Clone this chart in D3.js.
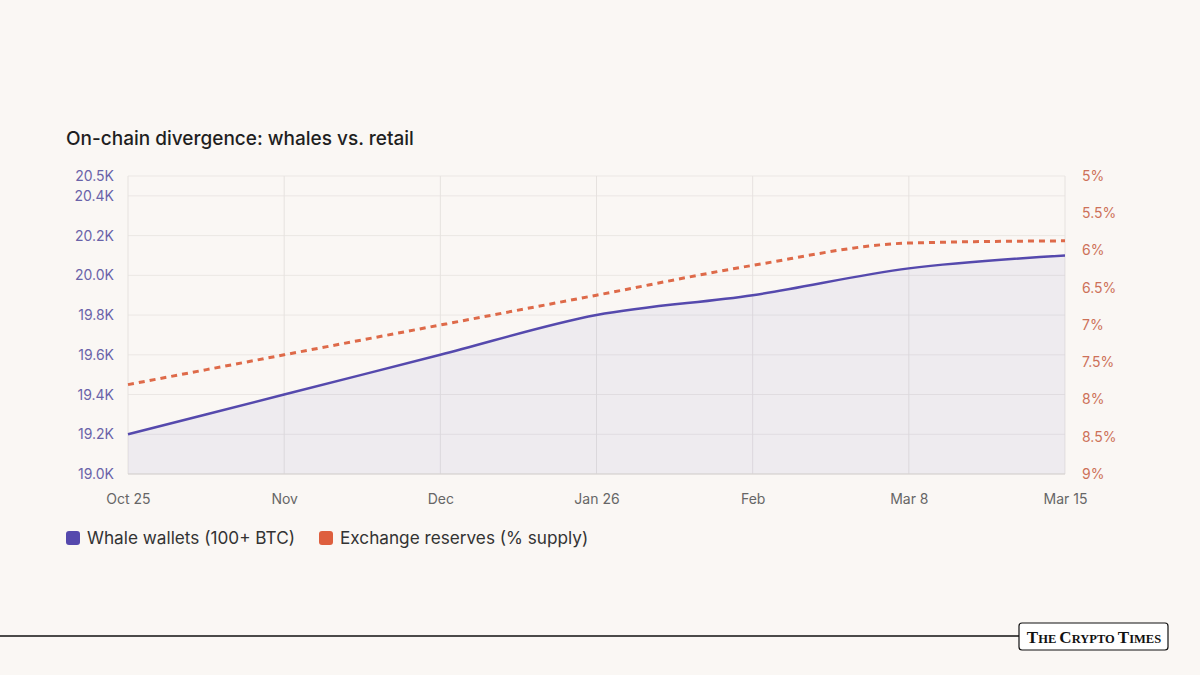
<!DOCTYPE html>
<html>
<head>
<meta charset="utf-8">
<script src="https://cdn.jsdelivr.net/npm/d3@7"></script>
<style>
    body { margin: 0; background: #faf7f4; }
    svg { display: block; font-family: Inter, "Open Sans", sans-serif; }
</style>
</head>
<body>
<svg width="1200" height="675"></svg>
<script>
const dates = ["Oct 25", "Nov", "Dec", "Jan 26", "Feb", "Mar 8", "Mar 15"];
const whaleWallets = [19200, 19400, 19600, 19800, 19900, 20035, 20100];
const exchangeReserves = [7.8, 7.4, 7.0, 6.6, 6.2, 5.9, 5.87];
const leftTicks = [19000, 19200, 19400, 19600, 19800, 20000, 20200, 20400, 20500];
const rightTicks = [5, 5.5, 6, 6.5, 7, 7.5, 8, 8.5, 9];

const rows = dates.map((d, i) => ({ date: d, whale: whaleWallets[i], reserve: exchangeReserves[i] }));

const svg = d3.select("svg");

const margin = { left: 128, right: 1065, top: 176, bottom: 474 };

const x = d3.scalePoint()
    .domain(dates)
    .range([margin.left, margin.right]);

const yLeft = d3.scaleLinear()
    .domain([19000, 20500])
    .range([margin.bottom, margin.top]);

const yRight = d3.scaleLinear()
    .domain([5, 9])
    .range([margin.top, margin.bottom]);

// grid
const grid = svg.append("g");
grid.selectAll(".hgrid")
    .data(leftTicks)
    .enter()
    .append("line")
    .attr("x1", margin.left)
    .attr("x2", margin.right)
    .attr("y1", d => yLeft(d))
    .attr("y2", d => yLeft(d))
    .attr("stroke", "#ebe7e4")
    .attr("stroke-width", 1);

grid.selectAll(".vgrid")
    .data(dates)
    .enter()
    .append("line")
    .attr("x1", d => x(d))
    .attr("x2", d => x(d))
    .attr("y1", margin.top)
    .attr("y2", margin.bottom)
    .attr("stroke", "#e6e2df")
    .attr("stroke-width", 1);

// area under whale line
const area = d3.area()
    .x(d => x(d.date))
    .y0(margin.bottom)
    .y1(d => yLeft(d.whale))
    .curve(d3.curveMonotoneX);

svg.append("path")
    .datum(rows)
    .attr("d", area)
    .attr("fill", "#5b4fb3")
    .attr("fill-opacity", 0.07);

// baseline
svg.append("line")
    .attr("x1", margin.left)
    .attr("x2", margin.right)
    .attr("y1", margin.bottom)
    .attr("y2", margin.bottom)
    .attr("stroke", "#d6d2cf");

const whaleLine = d3.line()
    .x(d => x(d.date))
    .y(d => yLeft(d.whale))
    .curve(d3.curveMonotoneX);

const reserveLine = d3.line()
    .x(d => x(d.date))
    .y(d => yRight(d.reserve))
    .curve(d3.curveMonotoneX);

svg.append("path")
    .datum(rows)
    .attr("d", reserveLine)
    .attr("fill", "none")
    .attr("stroke", "#de6a49")
    .attr("stroke-width", 3)
    .attr("stroke-dasharray", "6,5");

svg.append("path")
    .datum(rows)
    .attr("d", whaleLine)
    .attr("fill", "none")
    .attr("stroke", "#5549ad")
    .attr("stroke-width", 2.5);

// axes
const leftAxis = svg.append("g")
    .attr("transform", `translate(${margin.left},0)`)
    .call(d3.axisLeft(yLeft)
        .tickValues(leftTicks)
        .tickSize(0)
        .tickPadding(14)
        .tickFormat(d => (d / 1000).toFixed(1) + "K"));
leftAxis.select(".domain").remove();
leftAxis.selectAll("text")
    .attr("fill", "#6a63a9")
    .style("font-size", "14px")
    .style("font-family", "Inter, sans-serif");

const rightAxis = svg.append("g")
    .attr("transform", `translate(${margin.right},0)`)
    .call(d3.axisRight(yRight)
        .tickValues(rightTicks)
        .tickSize(0)
        .tickPadding(17)
        .tickFormat(d => d + "%"));
rightAxis.select(".domain").remove();
rightAxis.selectAll("text")
    .attr("fill", "#cd7159")
    .style("font-size", "14px")
    .style("font-family", "Inter, sans-serif");

const bottomAxis = svg.append("g")
    .attr("transform", `translate(0,${margin.bottom})`)
    .call(d3.axisBottom(x).tickSize(0).tickPadding(20));
bottomAxis.select(".domain").remove();
bottomAxis.selectAll("text")
    .attr("fill", "#666")
    .style("font-size", "14px")
    .style("font-family", "Inter, sans-serif");

// title
svg.append("text")
    .attr("x", 66)
    .attr("y", 145)
    .attr("fill", "#1f1f1f")
    .style("font-size", "19px")
    .style("font-weight", 500)
    .text("On-chain divergence: whales vs. retail");

// legend
const legendItems = [
    { label: "Whale wallets (100+ BTC)", color: "#5549ad", x: 66 },
    { label: "Exchange reserves (% supply)", color: "#de5f3e", x: 319 }
];
const legend = svg.append("g")
    .selectAll(".legend")
    .data(legendItems)
    .enter()
    .append("g")
    .attr("transform", d => `translate(${d.x},538)`);
legend.append("rect")
    .attr("x", 0)
    .attr("y", -7)
    .attr("width", 14)
    .attr("height", 14)
    .attr("rx", 3)
    .attr("fill", d => d.color);
legend.append("text")
    .attr("x", 21)
    .attr("dy", "0.35em")
    .attr("fill", "#333")
    .style("font-size", "17.2px")
    .text(d => d.label);

// footer
svg.append("line")
    .attr("x1", 0)
    .attr("x2", 1019)
    .attr("y1", 636)
    .attr("y2", 636)
    .attr("stroke", "#111")
    .attr("stroke-width", 1.5);

svg.append("rect")
    .attr("x", 1019)
    .attr("y", 623)
    .attr("width", 149)
    .attr("height", 27)
    .attr("rx", 3)
    .attr("fill", "#fff")
    .attr("stroke", "#111")
    .attr("stroke-width", 1.2);

const logo = svg.append("text")
    .attr("x", 1094)
    .attr("y", 643)
    .attr("text-anchor", "middle")
    .attr("fill", "#111")
    .style("font-family", "'Liberation Serif', 'DejaVu Serif', serif")
    .style("font-weight", "bold")
    .style("font-size", "17px");
[["T", 17], ["HE ", 12.5], ["C", 17], ["RYPTO ", 12.5], ["T", 17], ["IMES", 12.5]].forEach(([t, s]) => {
    logo.append("tspan").style("font-size", s + "px").text(t);
});
</script>
</body>
</html>
